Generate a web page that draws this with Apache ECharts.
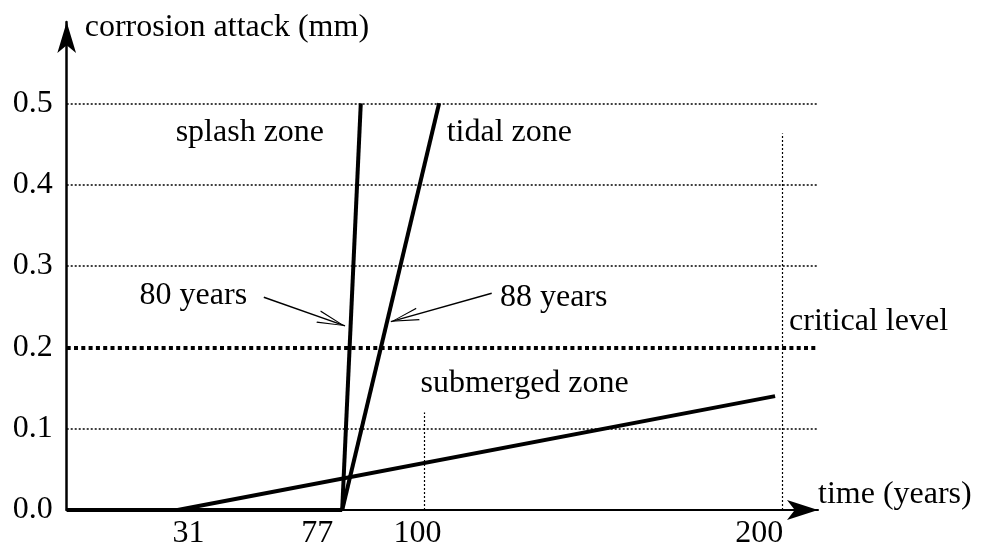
<!DOCTYPE html>
<html>
<head>
<meta charset="utf-8">
<script src="https://cdn.jsdelivr.net/npm/echarts@6/dist/echarts.min.js"></script>
<style>
html, body { margin: 0; padding: 0; background: #fff; }
#chart { width: 986px; height: 546px; }
</style>
</head>
<body>
<div id="chart"></div>
<script>
// time (years) vs corrosion attack (mm)
const noAttack = [[0, 0], [77, 0]];
const splashZone = [[77, 0], [82.2, 0.5]];
const tidalZone = [[77, 0], [104.1, 0.5]];
const submergedZone = [[31, 0], [198, 0.14]];

const xTicks = [31, 77, 100, 200];
const yTicks = [0, 0.1, 0.2, 0.3, 0.4, 0.5];
const gridLevels = [0.1, 0.3, 0.4, 0.5];
const criticalLevel = 0.2;
const yearMarks = [[100, 0.12], [200, 0.463]];

const noteTexts = ['splash zone', 'tidal zone', '80 years', '88 years', 'critical level', 'submerged zone'];
const noteX = [51.2, 106.2, 35.4, 121.1, 201.9, 98.9];
const noteY = [0.464, 0.464, 0.263, 0.261, 0.232, 0.156];

const arrowFrom = [[55.1, 0.2616], [118.8, 0.2665]];
const arrowTo = [[77.8, 0.2263], [90.6, 0.2316]];

// style only
const FONT = "'Liberation Serif', 'DejaVu Serif', serif";
const noteAlign = ['center', 'left', 'center', 'left', 'left', 'left'];
const xLabelShift = { 31: 11, 77: -25, 100: -7, 200: -23 };
// open arrow head, tip at the centre of its box so it ends on the target point
const openArrow = 'path://M50,50 L100,100 L90,100 L50,57 L10,100 L0,100 Z M49.8,0 L50.2,0 L50,0.3 Z';

const rich = {};
xTicks.forEach(t => {
  const s = xLabelShift[t] || 0;
  rich['s' + t] = {
    fontFamily: FONT, fontSize: 32, color: '#000',
    padding: s > 0 ? [0, 0, 0, 2 * s] : [0, -2 * s, 0, 0]
  };
});

const chart = echarts.init(document.getElementById('chart'));

const lineSeries = (name, data, extra) => Object.assign({
  name, type: 'line', data,
  symbol: 'none', silent: true,
  lineStyle: { color: '#000', width: 4 },
  itemStyle: { color: '#000' }
}, extra || {});

const markLines = [];
gridLevels.forEach(v => markLines.push([
  { coord: [0, v], lineStyle: { width: 1.5, type: [2, 2], color: '#000' } },
  { coord: [210, v] }
]));
markLines.push([
  { coord: [0, criticalLevel], lineStyle: { width: 4, type: [4, 3.3], color: '#000' } },
  { coord: [210, criticalLevel] }
]);
yearMarks.forEach(m => markLines.push([
  { coord: [m[0], 0], lineStyle: { width: 1.2, type: [2, 2], color: '#000' } },
  { coord: [m[0], m[1]] }
]));
arrowFrom.forEach((a, i) => markLines.push([
  { coord: a, lineStyle: { width: 1.4, type: 'solid', color: '#000' } },
  { coord: arrowTo[i], symbol: openArrow, symbolSize: [13, 56] }
]));

chart.setOption({
  backgroundColor: '#fff',
  animation: false,
  grid: { left: 66.7, right: 168, top: 22, bottom: 36, outerBoundsMode: 'none' },
  xAxis: {
    type: 'value', min: 0, max: 210,
    name: 'time (years)', nameLocation: 'end', nameGap: 0,
    nameTextStyle: { fontFamily: FONT, fontSize: 32, lineHeight: 30, color: '#000', align: 'left', verticalAlign: 'bottom' },
    axisLine: { show: true, symbol: ['none', 'arrow'], symbolSize: [15, 31], lineStyle: { color: '#000', width: 2 } },
    axisTick: { show: false },
    splitLine: { show: false },
    axisLabel: {
      customValues: xTicks, margin: 8,
      formatter: v => '{s' + v + '|' + v + '}',
      rich
    }
  },
  yAxis: {
    type: 'value', min: 0, max: 0.6,
    name: 'corrosion attack (mm)', nameLocation: 'end', nameGap: -6,
    nameTextStyle: { fontFamily: FONT, fontSize: 32, color: '#000', align: 'left', verticalAlign: 'middle', padding: [0, 0, 0, 18] },
    axisLine: { show: true, symbol: ['none', 'arrow'], symbolSize: [14, 31], lineStyle: { color: '#000', width: 2.5 } },
    axisTick: { show: false },
    splitLine: { show: false },
    axisLabel: {
      customValues: yTicks, margin: 14,
      fontFamily: FONT, fontSize: 32, color: '#000',
      formatter: v => v.toFixed(1)
    }
  },
  series: [
    lineSeries('no attack', noAttack),
    lineSeries('splash zone', splashZone),
    lineSeries('tidal zone', tidalZone),
    lineSeries('submerged zone', submergedZone, {
      markLine: {
        silent: true, symbol: ['none', 'none'],
        label: { show: false },
        data: markLines
      }
    }),
    {
      name: 'notes', type: 'scatter', symbolSize: 0, silent: true,
      itemStyle: { color: '#000', opacity: 0 },
      data: noteTexts.map((t, i) => ({
        name: t, value: [noteX[i], noteY[i]],
        label: { align: noteAlign[i], color: '#000', opacity: 1 }
      })),
      label: {
        show: true, position: 'inside', formatter: p => p.name,
        fontFamily: FONT, fontSize: 32, color: '#000', verticalAlign: 'middle',
        textBorderWidth: 0
      }
    }
  ]
});
</script>
</body>
</html>
